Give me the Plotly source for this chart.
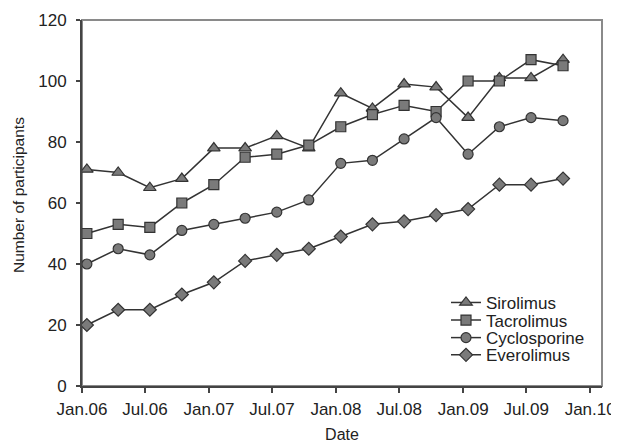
import plotly.graph_objects as go

dates = ["2006-01-15", "2006-04-15", "2006-07-15", "2006-10-15",
         "2007-01-15", "2007-04-15", "2007-07-15", "2007-10-15",
         "2008-01-15", "2008-04-15", "2008-07-15", "2008-10-15",
         "2009-01-15", "2009-04-15", "2009-07-15", "2009-10-15"]

sirolimus = [71, 70, 65, 68, 78, 78, 82, 78, 96, 91, 99, 98, 88, 101, 101, 107]
tacrolimus = [50, 53, 52, 60, 66, 75, 76, 79, 85, 89, 92, 90, 100, 100, 107, 105]
cyclosporine = [40, 45, 43, 51, 53, 55, 57, 61, 73, 74, 81, 88, 76, 85, 88, 87]
everolimus = [20, 25, 25, 30, 34, 41, 43, 45, 49, 53, 54, 56, 58, 66, 66, 68]

tick_dates = ["2006-01-01", "2006-07-01", "2007-01-01", "2007-07-01", "2008-01-01",
              "2008-07-01", "2009-01-01", "2009-07-01", "2010-01-01"]
tick_labels = ["Jan.06", "Jul.06", "Jan.07", "Jul.07", "Jan.08",
               "Jul.08", "Jan.09", "Jul.09", "Jan.10"]

series = [
    ("Sirolimus", sirolimus, "triangle-up", 11, "legend"),
    ("Tacrolimus", tacrolimus, "square", 10, "legend2"),
    ("Cyclosporine", cyclosporine, "circle", 10, "legend3"),
    ("Everolimus", everolimus, "diamond", 10, "legend4"),
]

FONT = "Liberation Sans, Arial, sans-serif"
fig = go.Figure()
for name, vals, sym, size, lg in series:
    fig.add_trace(go.Scatter(
        x=dates, y=vals, name=name, mode="lines+markers",
        line=dict(color="#333333", width=1.5),
        marker=dict(symbol=sym, size=size, color="#7a7a7a",
                    line=dict(color="#333333", width=1.2)),
        legend=lg,
    ))

leg_x = 0.70
leg_ys = [0.227, 0.179, 0.131, 0.084]
legends = {}
for key, yy in zip(["legend", "legend2", "legend3", "legend4"], leg_ys):
    legends[key] = dict(x=leg_x, y=yy, xanchor="left", yanchor="middle",
                        bgcolor="rgba(0,0,0,0)", borderwidth=0,
                        font=dict(family=FONT, size=17, color="#222"),
                        itemsizing="trace")

# page body has an 8px margin, so the figure is shifted by (8, 8)
fig.update_layout(
    width=611, height=435,
    margin=dict(l=74, r=17, t=12, b=57),
    paper_bgcolor="white", plot_bgcolor="white",
    font=dict(family=FONT, size=17, color="#222"),
    showlegend=True,
    **legends,
)
fig.update_xaxes(
    type="date", range=["2006-01-01", "2010-02-04"],
    tickmode="array", tickvals=tick_dates, ticktext=tick_labels,
    ticks="outside", ticklen=5, tickwidth=1.5, tickcolor="#444",
    showline=True, linecolor="#444", linewidth=2,
    showgrid=False, zeroline=False, automargin=False,
    tickfont=dict(size=17), ticklabelstandoff=2,
    title=dict(text="Date", font=dict(size=16)),
)
fig.update_yaxes(
    range=[0, 120], tickvals=[0, 20, 40, 60, 80, 100, 120],
    ticks="outside", ticklen=4, tickwidth=1.5, tickcolor="#444",
    showline=True, linecolor="#444", linewidth=2,
    showgrid=False, zeroline=False, automargin=False,
    tickfont=dict(size=17), ticklabelstandoff=6,
)
fig.add_annotation(text="Number of participants", textangle=-90,
                   xref="paper", yref="paper", x=-0.121, y=0.522,
                   xanchor="center", yanchor="middle", showarrow=False,
                   font=dict(family=FONT, size=15.5, color="#222"))
fig.add_shape(type="rect", xref="x domain", yref="y domain", x0=0, x1=1, y0=0, y1=1,
              line=dict(color="#8a8a8a", width=2), layer="below")

fig.write_html("out.html")
